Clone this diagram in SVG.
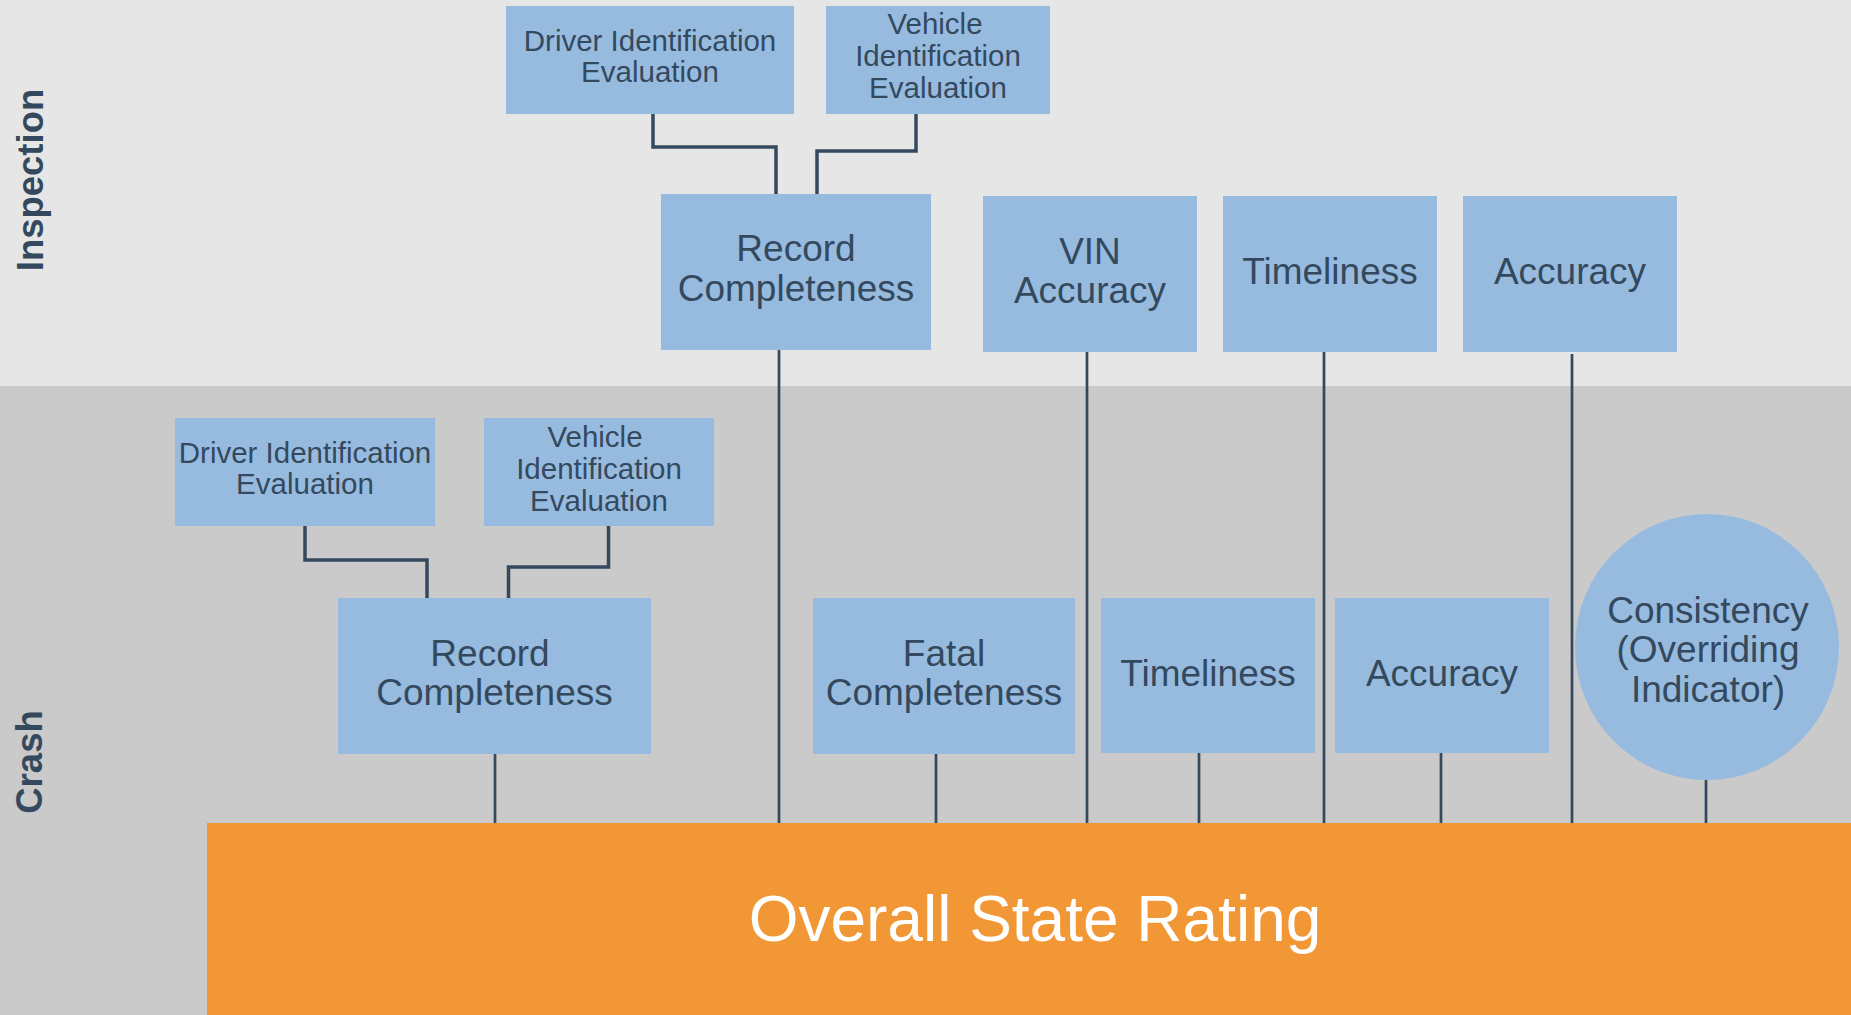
<svg xmlns="http://www.w3.org/2000/svg" width="1851" height="1015" viewBox="0 0 1851 1015">
<style>
.box{fill:#97bbdf}
.t{font-family:"Liberation Sans",Arial,sans-serif;fill:#34495e;text-anchor:middle}
.big{font-size:37px}
.small{font-size:29.5px}
.lane{font-family:"Liberation Sans",Arial,sans-serif;font-weight:bold;font-size:36.5px;fill:#34495e;text-anchor:middle}
.el{fill:none;stroke:#34495e;stroke-width:3.5}
.v{fill:none;stroke:#34495e;stroke-width:2.7}
</style>
<rect x="0" y="0" width="1851" height="386" fill="#e6e6e6"/>
<rect x="0" y="386" width="1851" height="629" fill="#c9cac9"/>
<text class="lane" transform="translate(43,180) rotate(-90)">Inspection</text>
<text class="lane" transform="translate(42,762) rotate(-90)">Crash</text>
<g id="connectors">
<path class="el" d="M653 114 V147 H776 V194"/>
<path class="el" d="M916 114 V151 H817 V194"/>
<path class="el" d="M305 526 V560 H427 V598"/>
<path class="el" d="M608.5 526 V567 H508.5 V598"/>
<path class="v" d="M495 754 V823"/>
<path class="v" d="M779 350 V823"/>
<path class="v" d="M936 754 V823"/>
<path class="v" d="M1087 352 V823"/>
<path class="v" d="M1199 753 V823"/>
<path class="v" d="M1324 352 V823"/>
<path class="v" d="M1441 753 V823"/>
<path class="v" d="M1572 354 V823"/>
<path class="v" d="M1706 780 V823"/>
</g>
<g id="insp-driver"><rect class="box" x="506" y="6" width="288" height="108"/><text class="t small" x="650" y="51">Driver Identification</text><text class="t small" x="650" y="82">Evaluation</text></g>
<g id="insp-vehicle"><rect class="box" x="826" y="6" width="224" height="108"/><text class="t small" x="935" y="34">Vehicle</text><text class="t small" x="938" y="66">Identification</text><text class="t small" x="938" y="98">Evaluation</text></g>
<g id="insp-record"><rect class="box" x="661" y="194" width="270" height="156"/><text class="t big" x="796" y="261">Record</text><text class="t big" x="796" y="301">Completeness</text></g>
<g id="insp-vin"><rect class="box" x="983" y="196" width="214" height="156"/><text class="t big" x="1090" y="264">VIN</text><text class="t big" x="1090" y="303">Accuracy</text></g>
<g id="insp-timeliness"><rect class="box" x="1223" y="196" width="214" height="156"/><text class="t big" x="1330" y="284">Timeliness</text></g>
<g id="insp-accuracy"><rect class="box" x="1463" y="196" width="214" height="156"/><text class="t big" x="1570" y="284">Accuracy</text></g>
<g id="crash-driver"><rect class="box" x="175" y="418" width="260" height="108"/><text class="t small" x="305" y="463">Driver Identification</text><text class="t small" x="305" y="494">Evaluation</text></g>
<g id="crash-vehicle"><rect class="box" x="484" y="418" width="230" height="108"/><text class="t small" x="595" y="447">Vehicle</text><text class="t small" x="599" y="479">Identification</text><text class="t small" x="599" y="511">Evaluation</text></g>
<g id="crash-record"><rect class="box" x="338" y="598" width="313" height="156"/><text class="t big" x="490" y="666">Record</text><text class="t big" x="494.5" y="705">Completeness</text></g>
<g id="crash-fatal"><rect class="box" x="813" y="598" width="262" height="156"/><text class="t big" x="944" y="666">Fatal</text><text class="t big" x="944" y="705">Completeness</text></g>
<g id="crash-timeliness"><rect class="box" x="1101" y="598" width="214" height="155"/><text class="t big" x="1208" y="686">Timeliness</text></g>
<g id="crash-accuracy"><rect class="box" x="1335" y="598" width="214" height="155"/><text class="t big" x="1442" y="686">Accuracy</text></g>
<g id="consistency"><ellipse class="box" cx="1707" cy="647" rx="132" ry="133"/><text class="t big" x="1708" y="623">Consistency</text><text class="t big" x="1708" y="662">(Overriding</text><text class="t big" x="1708" y="702">Indicator)</text></g>
<g id="overall"><rect x="207" y="823" width="1644" height="192" fill="#f29735"/><text x="1035" y="941" font-family="'Liberation Sans',Arial,sans-serif" font-size="64" fill="#ffffff" text-anchor="middle">Overall State Rating</text></g>
</svg>
